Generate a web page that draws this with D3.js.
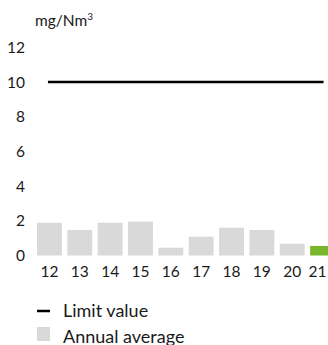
<!DOCTYPE html>
<html>
<head>
<meta charset="utf-8">
<script src="https://cdn.jsdelivr.net/npm/d3@7"></script>
<style>
  body { margin: 0; background: #fff; overflow: hidden; }
  svg { display: block; font-family: Lato, "Liberation Sans", sans-serif; }
</style>
</head>
<body>
<script>
var width = 328;
var height = 345;

// data
var years = ["12", "13", "14", "15", "16", "17", "18", "19", "20", "21"];
var annualAverage = [1.89, 1.47, 1.89, 1.95, 0.45, 1.08, 1.60, 1.47, 0.68, 0.55];
var limitValue = 10;
var yTicks = [0, 2, 4, 6, 8, 10, 12];
var unitLabel = "mg/Nm";
var legendLabels = ["Limit value", "Annual average"];

var grey = "#d9d9d9";
var green = "#78b72b";
var ink = "#1a1a1a";

var x = d3.scaleBand()
    .domain(years)
    .range([37, 335])
    .paddingInner(0.18)
    .paddingOuter(0);

var y = d3.scaleLinear()
    .domain([0, 12])
    .range([255.5, 47.3]);

var svg = d3.select("body").append("svg")
    .attr("width", width)
    .attr("height", height);

// unit label
var unit = svg.append("text")
    .attr("x", 35)
    .attr("y", 26)
    .attr("fill", ink)
    .style("font-size", "15.5px")
    .text(unitLabel);
unit.append("tspan")
    .attr("dy", -6)
    .style("font-size", "10px")
    .text("3");

// y axis labels (no line, no ticks)
svg.append("g")
    .selectAll("text")
    .data(yTicks)
    .enter().append("text")
    .attr("x", 25)
    .attr("y", function(d) { return y(d); })
    .attr("dy", "0.36em")
    .attr("text-anchor", "end")
    .attr("fill", ink)
    .style("font-size", "15.5px")
    .text(function(d) { return d; });

// bars
svg.append("g")
    .selectAll("rect")
    .data(years)
    .enter().append("rect")
    .attr("x", function(d) { return x(d); })
    .attr("width", x.bandwidth())
    .attr("y", function(d, i) { return y(annualAverage[i]); })
    .attr("height", function(d, i) { return y(0) - y(annualAverage[i]); })
    .attr("fill", function(d, i) { return i == years.length - 1 ? green : grey; });

// limit line
svg.append("line")
    .attr("x1", x(years[0]) + x.bandwidth() / 2 - 1.5)
    .attr("x2", x(years[years.length - 1]) + x.bandwidth() / 2 + 1)
    .attr("y1", y(limitValue))
    .attr("y2", y(limitValue))
    .attr("stroke", "#000")
    .attr("stroke-width", 2.5);

// x axis labels, last one pulled in so it fits
svg.append("g")
    .selectAll("text")
    .data(years)
    .enter().append("text")
    .attr("x", function(d) { return Math.min(x(d) + x.bandwidth() / 2, 317.5); })
    .attr("y", 276.5)
    .attr("text-anchor", "middle")
    .attr("fill", ink)
    .style("font-size", "15.5px")
    .text(function(d) { return d; });

// legend
var legend = svg.append("g");
legend.append("line")
    .attr("x1", 37).attr("x2", 50)
    .attr("y1", 311).attr("y2", 311)
    .attr("stroke", "#000")
    .attr("stroke-width", 2.5);
legend.append("rect")
    .attr("x", 37).attr("y", 327)
    .attr("width", 13).attr("height", 14)
    .attr("fill", grey);
legend.selectAll("text")
    .data(legendLabels)
    .enter().append("text")
    .attr("x", 63)
    .attr("y", function(d, i) { return 316.5 + i * 26; })
    .attr("fill", ink)
    .style("font-size", "18px")
    .text(function(d) { return d; });
</script>
</body>
</html>
